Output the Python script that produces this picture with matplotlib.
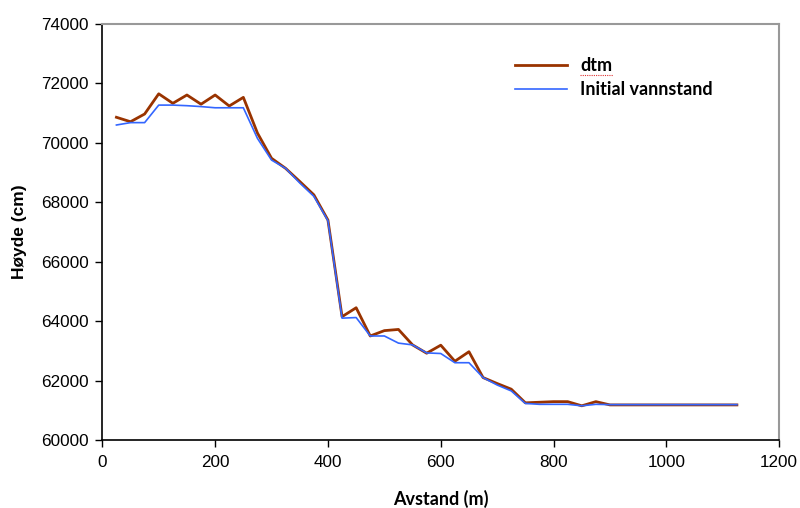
import matplotlib
matplotlib.use("Agg")
import matplotlib.pyplot as plt
from matplotlib.lines import Line2D

# distance along the profile (m)
avstand = [25, 50, 75, 100, 125, 150, 175, 200, 225, 250,
           275, 300, 325, 350, 375, 400, 425, 450, 475, 500,
           525, 550, 575, 600, 625, 650, 675, 700, 725, 750,
           775, 800, 825, 850, 875, 900, 925, 950, 975, 1000,
           1025, 1050, 1075, 1100, 1125]

# terrain height (cm)
dtm = [70860, 70710, 70970, 71650, 71330, 71610, 71300, 71610, 71240, 71530,
       70330, 69480, 69140, 68700, 68250, 67400, 64150, 64450, 63500, 63680,
       63720, 63200, 62920, 63190, 62650, 62970, 62100, 61900, 61710, 61250,
       61270, 61290, 61290, 61150, 61290, 61180, 61180, 61180, 61180, 61180,
       61180, 61180, 61180, 61180, 61180]

# initial water level (cm)
vannstand = [70600, 70680, 70680, 71270, 71270, 71250, 71220, 71180, 71180, 71180,
             70150, 69420, 69140, 68650, 68200, 67380, 64100, 64120, 63500, 63500,
             63260, 63200, 62930, 62910, 62600, 62600, 62100, 61850, 61650, 61230,
             61200, 61200, 61200, 61150, 61200, 61190, 61190, 61190, 61190, 61190,
             61190, 61190, 61190, 61190, 61190]

plt.rcParams['font.family'] = ['Liberation Sans', 'DejaVu Sans']

fig = plt.figure(figsize=(8, 5.08), dpi=100)
ax = fig.add_axes([0.1279, 0.1339, 0.974 - 0.1279, 0.9528 - 0.1339])

ax.plot(avstand, dtm, color='#993300', linewidth=2.0, label='dtm')
ax.plot(avstand, vannstand, color='#3366ff', linewidth=1.2, label='Initial vannstand')

ax.set_xlim(0, 1200)
ax.set_ylim(60000, 74000)
ax.set_xticks(range(0, 1201, 200))
ax.set_yticks(range(60000, 74001, 2000))
ax.tick_params(direction='out', length=5, width=1, labelsize=12.3, colors='black')
ax.tick_params(axis='x', pad=6)
ax.tick_params(axis='y', pad=5)

for side in ['left', 'bottom']:
    ax.spines[side].set_color('black')
    ax.spines[side].set_linewidth(1.2)
for side in ['top', 'right']:
    ax.spines[side].set_color('#999999')
    ax.spines[side].set_linewidth(1.5)

ax.set_xlabel('Avstand (m)', family='Lato', fontweight='bold', fontsize=13, labelpad=14)
ax.set_ylabel('Høyde (cm)', fontweight='bold', fontsize=12.5, labelpad=10)

leg = ax.legend(loc='upper left', bbox_to_anchor=(0.585, 0.96), frameon=False,
                handlelength=2.9, handletextpad=0.75, labelspacing=0.4,
                prop={'family': 'Lato', 'weight': 'bold', 'size': 13})

# red dotted spell-check underline under "dtm"
fig.canvas.draw()
bb = leg.get_texts()[0].get_window_extent().transformed(fig.transFigure.inverted())
fig.add_artist(Line2D([bb.x0, bb.x1], [bb.y0 - 0.002, bb.y0 - 0.002],
                      transform=fig.transFigure, color='#e03030',
                      linewidth=0.8, linestyle=(0, (1, 1))))

fig.savefig('out.png', dpi=100)
